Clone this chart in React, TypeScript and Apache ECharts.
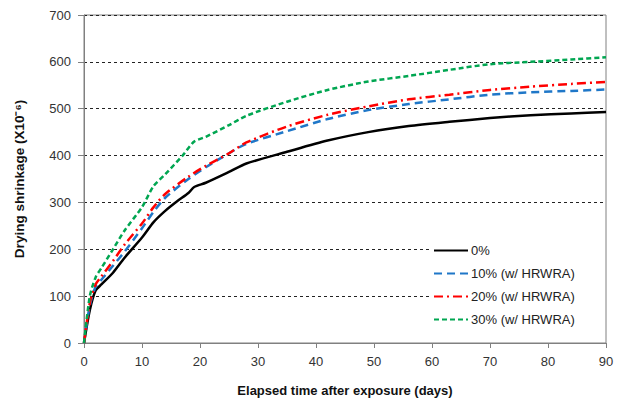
import React, { useEffect, useRef } from "react";
import * as echarts from "echarts";

const seriesNames = ["0%", "10% (w/ HRWRA)", "20% (w/ HRWRA)", "30% (w/ HRWRA)"];

const days0 = [0, 1, 2, 3, 5, 7, 10, 12, 14, 16, 18, 19, 21, 25, 28, 35, 42, 49, 56, 63, 70, 77, 84, 90];
const vals0 = [0, 70, 112, 125, 150, 182, 225, 258, 282, 302, 320, 333, 342, 365, 383, 408, 432, 450, 463, 472, 480, 486, 490, 493];

const days10 = [0, 1, 2, 3, 5, 7, 10, 12, 14, 18, 21, 25, 28, 35, 42, 49, 56, 63, 70, 77, 84, 90];
const vals10 = [0, 80, 120, 135, 165, 195, 245, 280, 310, 350, 375, 405, 425, 452, 478, 497, 510, 520, 530, 535, 538, 541];

const days20 = [0, 1, 2, 3, 5, 7, 10, 12, 14, 18, 21, 25, 28, 35, 42, 49, 56, 63, 70, 77, 84, 90];
const vals20 = [0, 85, 125, 142, 175, 210, 255, 290, 318, 355, 378, 405, 428, 462, 487, 505, 520, 530, 540, 547, 553, 557];

const days30 = [0, 1, 2, 3, 5, 7, 10, 12, 14, 17, 19, 21, 25, 28, 35, 42, 49, 56, 63, 70, 77, 84, 90];
const vals30 = [0, 100, 140, 160, 200, 240, 290, 335, 360, 400, 430, 440, 465, 485, 515, 540, 558, 570, 583, 595, 600, 605, 610];

const colors = ["#000000", "#1f77c8", "#ff0000", "#00a651"];
const dashes: any[] = ["solid", [8, 5], [9, 4, 2, 4], [5, 3]];

function zip(xs: number[], ys: number[]) {
  return xs.map((x, i) => [x, ys[i]]);
}

export default function App() {
  const ref = useRef<HTMLDivElement>(null);
  useEffect(() => {
    if (!ref.current) return;
    const chart = echarts.init(ref.current, null, { renderer: "svg" });
    const datasets = [zip(days0, vals0), zip(days10, vals10), zip(days20, vals20), zip(days30, vals30)];
    const font = "Liberation Sans";
    chart.setOption({
      animation: false,
      textStyle: { fontFamily: font },
      grid: { left: 84, right: 20, top: 15, bottom: 63, show: true, borderColor: "#808080", borderWidth: 1 },
      legend: {
        orient: "vertical",
        left: 429,
        top: 240,
        itemWidth: 34,
        itemHeight: 12,
        itemGap: 10,
        backgroundColor: "#ffffff",
        padding: [4, 30, 4, 4],
        itemStyle: { opacity: 0 },
        textStyle: { fontFamily: font, fontSize: 13, color: "#222", padding: [0, 0, 0, -2] },
        data: seriesNames,
      },
      xAxis: {
        type: "value",
        min: 0,
        max: 90,
        interval: 10,
        name: "Elapsed time after exposure (days)",
        nameLocation: "middle",
        nameGap: 41,
        nameTextStyle: { fontFamily: font, fontSize: 13, fontWeight: "bold", color: "#111" },
        axisLine: { lineStyle: { color: "#808080", width: 1 } },
        axisTick: { show: true, inside: false, length: 5, lineStyle: { color: "#808080" } },
        axisLabel: { fontSize: 13, color: "#333", margin: 12, fontFamily: font },
        splitLine: { show: false },
      },
      yAxis: {
        type: "value",
        min: 0,
        max: 700,
        interval: 100,
        name: "Drying shrinkage (X10⁻⁶)",
        nameLocation: "middle",
        nameGap: 58,
        nameRotate: 90,
        nameTextStyle: { fontFamily: font, fontSize: 13.5, fontWeight: "bold", color: "#111" },
        axisLine: { show: true, lineStyle: { color: "#808080", width: 1 } },
        axisTick: { show: true, inside: false, length: 6, lineStyle: { color: "#808080" } },
        axisLabel: { fontSize: 13, color: "#333", margin: 13, fontFamily: font },
        splitLine: {
          show: true,
          lineStyle: { color: "#222", type: [3, 3], width: 1 },
        },
      },
      series: datasets.map((d, i) => ({
        name: seriesNames[i],
        type: "line",
        data: d,
        smooth: 0.25,
        symbol: "none",
        lineStyle: { color: colors[i], width: 2.5, type: dashes[i] },
        itemStyle: { color: colors[i] },
      })),
    });
    return () => chart.dispose();
  }, []);
  return <div ref={ref} style={{ width: 626, height: 406, margin: -8 }} />;
}
